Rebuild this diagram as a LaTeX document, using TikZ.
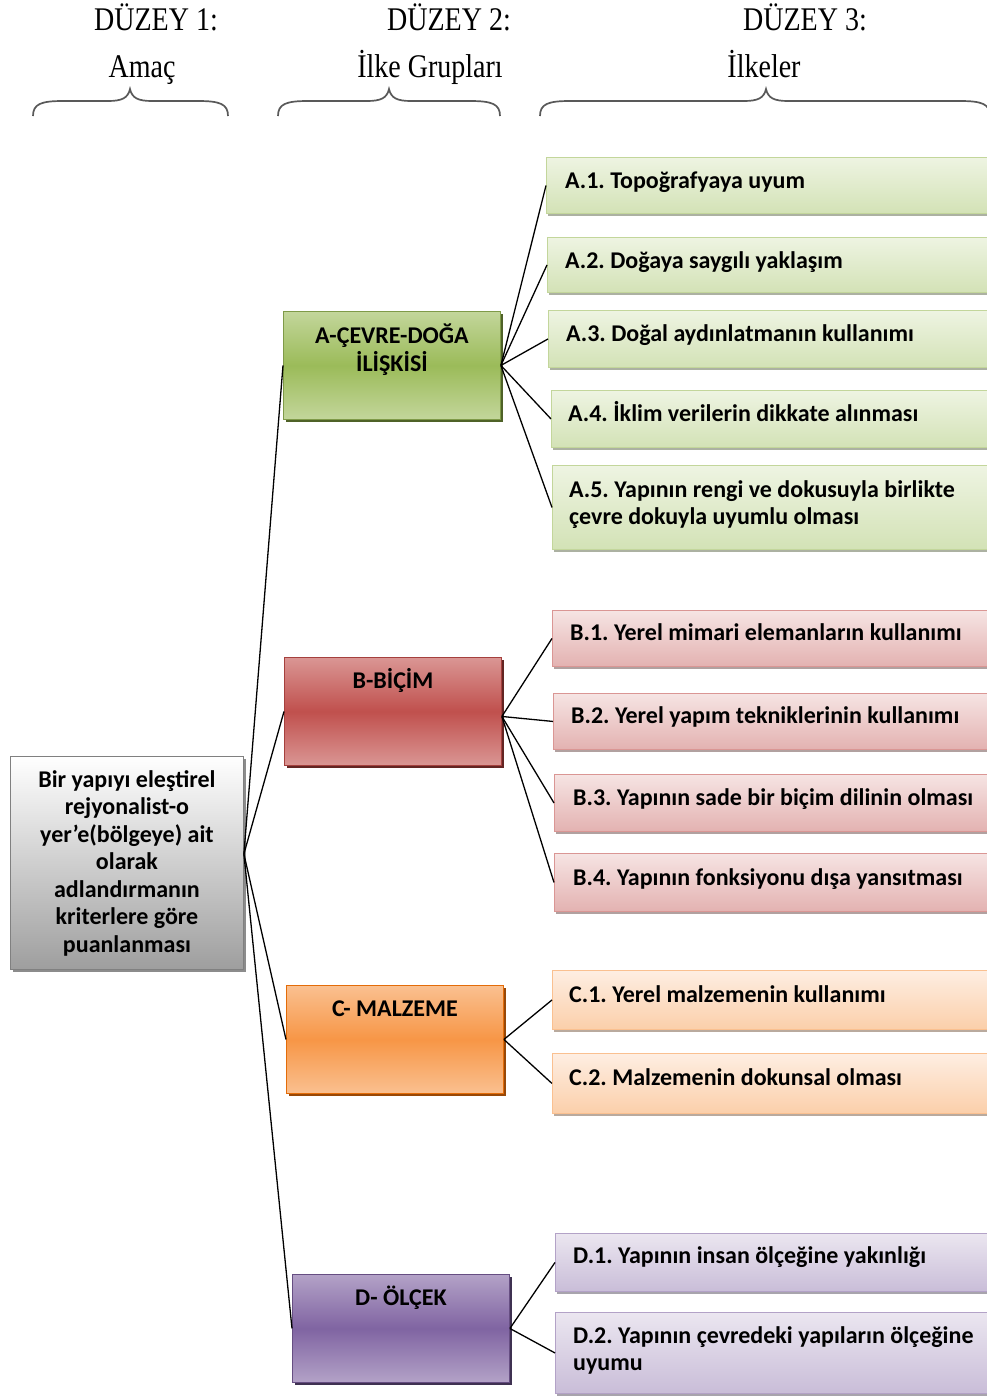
\documentclass[tikz,border=0pt]{standalone}
\usepackage{fontspec}
\setmainfont{Carlito}
\newfontfamily\hdrfont{Liberation Serif}
\usetikzlibrary{shadows}
\frenchspacing
\definecolor{grnL}{HTML}{C3D69B}\definecolor{grnB}{HTML}{9BBB59}\definecolor{grnD}{HTML}{7F9A48}\definecolor{grnS}{HTML}{4F6228}
\definecolor{redL}{HTML}{DA9694}\definecolor{redB}{HTML}{C0504D}\definecolor{redD}{HTML}{A5403D}\definecolor{redS}{HTML}{632523}
\definecolor{orgL}{HTML}{FAC090}\definecolor{orgB}{HTML}{F79646}\definecolor{orgD}{HTML}{E36C09}\definecolor{orgS}{HTML}{984807}
\definecolor{purL}{HTML}{B3A2C7}\definecolor{purB}{HTML}{8064A2}\definecolor{purD}{HTML}{664E82}\definecolor{purS}{HTML}{3F3151}
\definecolor{grnT}{HTML}{EEF4E2}\definecolor{grnU}{HTML}{D3E2B6}\definecolor{grnM}{HTML}{C3D69B}
\definecolor{redT}{HTML}{F6E4E3}\definecolor{redU}{HTML}{E3B2B1}\definecolor{redM}{HTML}{DA9694}
\definecolor{orgT}{HTML}{FEEEE2}\definecolor{orgU}{HTML}{FBCFAA}\definecolor{orgM}{HTML}{FAC090}
\definecolor{purT}{HTML}{EBE6F0}\definecolor{purU}{HTML}{C9BDD8}\definecolor{purM}{HTML}{B3A2C7}
\newcommand\lnsC[1]{\begin{tabular}[t]{@{}c@{}}#1\end{tabular}}
\newcommand\lnsL[1]{\begin{tabular}[t]{@{}l@{}}#1\end{tabular}}
\begin{document}
\begin{tikzpicture}[x=1pt,y=-1pt,
  txt/.style={font=\fontsize{24}{27.5}\selectfont\bfseries, inner sep=0pt, text=black},
  hdr/.style={font=\hdrfont\fontsize{28}{30}\selectfont, inner sep=0pt, anchor=base},
  brc/.style={draw=black!65, line width=1.7pt},
  conn/.style={draw=black, line width=1.3pt},
  box/.style={rectangle, inner sep=0pt, anchor=north west, line width=0.9pt},
  grp/.style={box, minimum width=217pt, minimum height=108pt},
  gA/.style={grp, draw=grnD, top color=grnL, bottom color=grnL, middle color=grnB, general shadow={fill=grnS, shadow xshift=3pt, shadow yshift=-3pt}},
  gB/.style={grp, draw=redD, top color=redL, bottom color=redL, middle color=redB, general shadow={fill=redS, shadow xshift=3pt, shadow yshift=-3pt}},
  gC/.style={grp, draw=orgD, top color=orgL, bottom color=orgL, middle color=orgB, general shadow={fill=orgS, shadow xshift=3pt, shadow yshift=-3pt}},
  gD/.style={grp, draw=purD, top color=purL, bottom color=purL, middle color=purB, general shadow={fill=purS, shadow xshift=3pt, shadow yshift=-3pt}},
  lA/.style={box, draw=grnM, top color=grnT, bottom color=grnU, general shadow={fill=grnU!55!black!60, shadow xshift=2pt, shadow yshift=-3pt}},
  lB/.style={box, draw=redM, top color=redT, bottom color=redU, general shadow={fill=redU!55!black!60, shadow xshift=2pt, shadow yshift=-3pt}},
  lC/.style={box, draw=orgM, top color=orgT, bottom color=orgU, general shadow={fill=orgU!55!black!60, shadow xshift=2pt, shadow yshift=-3pt}},
  lD/.style={box, draw=purM, top color=purT, bottom color=purU, general shadow={fill=purU!55!black!60, shadow xshift=2pt, shadow yshift=-3pt}},
  goal/.style={box, draw=black!50, top color=white, bottom color=black!38, minimum width=233pt, minimum height=213pt, general shadow={fill=black!45, shadow xshift=3pt, shadow yshift=-3pt}},
  ltxt/.style={txt, anchor=base west},
  ctxt/.style={txt, anchor=base}
]
\useasboundingbox (0,0) rectangle (987,1398);
\fill[white] (0,0) rectangle (987,1398);

% headers
\node[hdr] (h1) at (156,30) {\scalebox{1}[1.18]{DÜZEY 1:}};
\node[hdr] (h2) at (449,30) {\scalebox{1}[1.18]{DÜZEY 2:}};
\node[hdr] (h3) at (805,30) {\scalebox{1}[1.18]{DÜZEY 3:}};
\node[hdr] (s1) at (142,77) {\scalebox{1}[1.18]{Amaç}};
\node[hdr] (s2) at (430,77) {\scalebox{1}[1.18]{İlke Grupları}};
\node[hdr] (s3) at (764,77) {\scalebox{1}[1.18]{İlkeler}};

% braces
\draw[brc] (33,116) .. controls (33,104) and (41,101) .. (63,101) -- (108,101) .. controls (122,101) and (128,98) .. (130,89) .. controls (132,98) and (138,101) .. (152,101) -- (198,101) .. controls (220,101) and (228,104) .. (228,116);
\draw[brc] (278,116) .. controls (278,104) and (286,101) .. (308,101) -- (367,101) .. controls (381,101) and (387,98) .. (389,89) .. controls (391,98) and (397,101) .. (411,101) -- (470,101) .. controls (492,101) and (500,104) .. (500,116);
\draw[brc] (540,116) .. controls (540,104) and (548,101) .. (570,101) -- (744,101) .. controls (758,101) and (764,98) .. (766,89) .. controls (768,98) and (774,101) .. (788,101) -- (960,101) .. controls (982,101) and (990,104) .. (990,116);

% level 1
\node[goal] (L) at (10,756) {};
\node[ctxt] (Lt) at ([yshift=-31pt]L.north) {\lnsC{Bir yapıyı eleştirel\\rejyonalist-o\\yer’e(bölgeye) ait\\olarak\\adlandırmanın\\kriterlere göre\\puanlanması}};

% level 2
\node[gA] (A) at (283,311) {};
\node[ctxt] (At) at ([yshift=-32pt]A.north) {\lnsC{A-ÇEVRE-DOĞA\\İLİŞKİSİ}};
\node[gB] (B) at (284,657) {};
\node[ctxt] (Bt) at ([yshift=-31pt]B.north) {B-BİÇİM};
\node[gC] (C) at (286,985) {};
\node[ctxt] (Ct) at ([yshift=-31pt]C.north) {C- MALZEME};
\node[gD] (D) at (292,1274) {};
\node[ctxt] (Dt) at ([yshift=-31pt]D.north) {D- ÖLÇEK};

% level 3
\node[lA, minimum width=454pt, minimum height=56pt] (a1) at (546,157) {};
\node[lA, minimum width=453pt, minimum height=55pt] (a2) at (547,237) {};
\node[lA, minimum width=452pt, minimum height=57pt] (a3) at (548,310) {};
\node[lA, minimum width=449pt, minimum height=57pt] (a4) at (551,390) {};
\node[lA, minimum width=448pt, minimum height=84pt] (a5) at (552,465) {};
\node[lB, minimum width=448pt, minimum height=56pt] (b1) at (552,610) {};
\node[lB, minimum width=447pt, minimum height=56pt] (b2) at (553,693) {};
\node[lB, minimum width=446pt, minimum height=57pt] (b3) at (554,774) {};
\node[lB, minimum width=446pt, minimum height=58pt] (b4) at (554,853) {};
\node[lC, minimum width=448pt, minimum height=59pt] (c1) at (552,970) {};
\node[lC, minimum width=448pt, minimum height=60pt] (c2) at (552,1053) {};
\node[lD, minimum width=445pt, minimum height=58pt] (d1) at (555,1233) {};
\node[lD, minimum width=445pt, minimum height=81pt] (d2) at (555,1312) {};

\node[ltxt] (a1t) at ([xshift=19pt,yshift=-31pt]a1.north west) {A.1. Topoğrafyaya uyum};
\node[ltxt] (a2t) at ([xshift=18pt,yshift=-31pt]a2.north west) {A.2. Doğaya saygılı yaklaşım};
\node[ltxt] (a3t) at ([xshift=18pt,yshift=-31pt]a3.north west) {A.3. Doğal aydınlatmanın kullanımı};
\node[ltxt] (a4t) at ([xshift=17pt,yshift=-31pt]a4.north west) {A.4. İklim verilerin dikkate alınması};
\node[ltxt] (a5t) at ([xshift=17pt,yshift=-32pt]a5.north west) {\lnsL{A.5. Yapının rengi ve dokusuyla birlikte\\çevre dokuyla uyumlu olması}};
\node[ltxt] (b1t) at ([xshift=18pt,yshift=-30pt]b1.north west) {B.1. Yerel mimari elemanların kullanımı};
\node[ltxt] (b2t) at ([xshift=18pt,yshift=-30pt]b2.north west) {B.2. Yerel yapım tekniklerinin kullanımı};
\node[ltxt] (b3t) at ([xshift=19pt,yshift=-31pt]b3.north west) {B.3. Yapının sade bir biçim dilinin olması};
\node[ltxt] (b4t) at ([xshift=19pt,yshift=-32pt]b4.north west) {B.4. Yapının fonksiyonu dışa yansıtması};
\node[ltxt] (c1t) at ([xshift=17pt,yshift=-32pt]c1.north west) {C.1. Yerel malzemenin kullanımı};
\node[ltxt] (c2t) at ([xshift=17pt,yshift=-32pt]c2.north west) {C.2. Malzemenin dokunsal olması};
\node[ltxt] (d1t) at ([xshift=18pt,yshift=-30pt]d1.north west) {D.1. Yapının insan ölçeğine yakınlığı};
\node[ltxt] (d2t) at ([xshift=18pt,yshift=-31pt]d2.north west) {\lnsL{D.2. Yapının çevredeki yapıların ölçeğine\\uyumu}};

% connectors
\coordinate (Lo) at ([yshift=9pt]L.east);
\draw[conn] (Lo) -- (A.west);
\draw[conn] (Lo) -- (B.west);
\draw[conn] (Lo) -- (C.west);
\draw[conn] (Lo) -- (D.west);
\foreach \t in {a1,a2,a3,a4,a5} \draw[conn] (A.east) -- (\t.west);
\coordinate (Bo) at ([yshift=-5pt]B.east);
\foreach \t in {b1,b2,b3,b4} \draw[conn] (Bo) -- (\t.west);
\foreach \t in {c1,c2} \draw[conn] (C.east) -- (\t.west);
\foreach \t in {d1,d2} \draw[conn] (D.east) -- (\t.west);
\end{tikzpicture}
\end{document}
